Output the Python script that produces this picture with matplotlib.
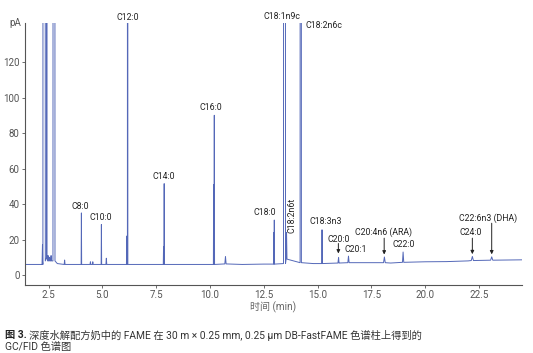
import numpy as np
from matplotlib import pyplot as plt

plt.rcParams['font.family'] = ['Roboto', 'Noto Sans CJK SC', 'DejaVu Sans']

# Пики хроматограммы: время удерживания (мин), высота (pA), уровень базовой линии, полуширина
peak_rt = [2.21, 2.28, 2.41, 2.47, 2.54, 2.61, 2.745, 3.24, 4.02, 4.44, 4.55,
           4.95, 5.18, 6.13, 6.17, 7.84, 7.87, 10.17, 10.20, 10.72, 12.97, 12.99, 13.465, 13.56,
           14.22, 15.21, 15.98, 16.44, 18.11, 18.98, 22.20, 23.10]
peak_height = [17, 3000, 3000, 11, 10, 11, 3000, 8.5, 35, 7.5, 7.5,
               28.5, 9.5, 22, 3000, 16, 51.5, 51, 90, 10.5, 24, 31, 3000, 24,
               3000, 25.5, 10, 10.7, 10.2, 13, 10.5, 10.3]
peak_base = [6, 8, 10, 8, 8, 8, 8, 6, 6, 6, 6,
             6, 6, 6, 6, 6, 6, 6, 6, 6.3, 6.2, 6.2, 6.5, 9,
             7, 6.5, 6.8, 7, 7, 7.2, 8.2, 8.4]
peak_halfwidth = [0.02, 0.063, 0.008, 0.02, 0.02, 0.02, 0.047, 0.02, 0.012, 0.02, 0.02,
                  0.012, 0.02, 0.015, 0.01, 0.012, 0.012, 0.012, 0.012, 0.03, 0.012, 0.012, 0.047, 0.02,
                  0.03, 0.015, 0.03, 0.03, 0.04, 0.03, 0.05, 0.05]

# Базовая линия между пиками
base_t = [1.4, 2.18, 2.9, 3.6, 5.6, 9.0, 11.5, 12.5, 14.8, 16.0, 17.0, 18.4, 20.0, 21.0, 22.0, 24.5]
base_y = [6.0, 6.0, 6.5, 6.0, 6.0, 6.0, 6.0, 6.2, 6.5, 6.8, 7.0, 6.8, 7.5, 7.6, 8.0, 8.6]

# Подписи пиков: текст, x, y
labels = ['C8:0', 'C10:0', 'C12:0', 'C14:0', 'C16:0', 'C18:1n9c', 'C18:0',
          'C18:3n3', 'C20:1', 'C22:0']
label_x = [3.98, 4.92, 6.18, 7.86, 10.03, 13.34, 12.56, 15.39, 16.80, 19.03]
label_y = [38.5, 32.7, 144.8, 55.4, 94.6, 145.4, 35.1, 30.0, 14.6, 17.3]

# Подписи со стрелками: текст, x текста, y текста, x пика, начало и конец стрелки
arrow_labels = ['C20:0', 'C20:4n6 (ARA)', 'C24:0', 'C22:6n3 (DHA)']
arrow_text_x = [15.97, 18.07, 22.10, 22.93]
arrow_text_y = [20.3, 24.0, 24.0, 32.0]
arrow_x = [15.97, 18.10, 22.20, 23.10]
arrow_top = [17.8, 20.8, 20.8, 29.2]
arrow_tip = [12.2, 11.6, 11.8, 11.7]

# Собрать точки кривой
pts = list(zip(base_t, base_y))
for rt, h, b, w in zip(peak_rt, peak_height, peak_base, peak_halfwidth):
    pts += [(rt - w, b), (rt, h), (rt + w, b)]
pts.sort()
t = np.array([p[0] for p in pts])
y = np.array([p[1] for p in pts])

fig = plt.figure(figsize=(5.33, 3.53), dpi=100)
ax = fig.add_axes([0.047, 0.193, 0.932, 0.742])
ax.plot(t, y, color='#5468b8', lw=0.7)

ax.set_xlim(1.4, 24.5)
ax.set_ylim(-5.5, 142)
ax.set_xticks([2.5, 5.0, 7.5, 10.0, 12.5, 15.0, 17.5, 20.0, 22.5])
ax.set_xticklabels(['2.5', '5.0', '7.5', '10.0', '12.5', '15.0', '17.5', '20.0', '22.5'])
ax.set_yticks([0, 20, 40, 60, 80, 100, 120])
for s in ['top', 'right']:
    ax.spines[s].set_visible(False)
for s in ['left', 'bottom']:
    ax.spines[s].set_color('#555555')
    ax.spines[s].set_linewidth(0.8)
ax.tick_params(labelsize=7, colors='#555555', length=2.5, width=0.6, pad=1.5)
ax.set_xlabel('时间 (min)', fontsize=7.2, color='#666666', labelpad=1)
ax.text(-0.008, 1.0, 'pA', transform=ax.transAxes, ha='right', va='center',
        fontsize=7, color='#555555')

for txt, lx, ly in zip(labels, label_x, label_y):
    ax.text(lx, ly, txt, ha='center', va='center', fontsize=6.3, color='#222222', clip_on=False)
ax.text(14.42, 140.8, 'C18:2n6c', ha='left', va='center', fontsize=6.3, color='#222222', clip_on=False)
ax.text(13.80, 33.8, 'C18:2n6t', ha='center', va='center', rotation=90, fontsize=6.3, color='#222222')

for txt, tx, ty, ax_x, a0, a1 in zip(arrow_labels, arrow_text_x, arrow_text_y, arrow_x, arrow_top, arrow_tip):
    ax.text(tx, ty, txt, ha='center', va='center', fontsize=6.3, color='#222222')
    ax.annotate('', xy=(ax_x, a1), xytext=(ax_x, a0),
                arrowprops=dict(arrowstyle='-|>', color='#222222', lw=0.7, mutation_scale=5,
                                shrinkA=0, shrinkB=0))

# Подпись к рисунку
bold = fig.text(0.009, 0.051, '图 3.', fontsize=7.4, weight='bold', color='#222222', va='center')
fig.canvas.draw()
bb = bold.get_window_extent(renderer=fig.canvas.get_renderer())
x_next = (bb.x1 + 2) / fig.bbox.width
fig.text(x_next, 0.051, '深度水解配方奶中的 FAME 在 30 m × 0.25 mm, 0.25 µm DB-FastFAME 色谱柱上得到的',
         fontsize=7.4, color='#333333', va='center')
fig.text(0.009, 0.017, 'GC/FID 色谱图', fontsize=7.4, color='#333333', va='center')

plt.savefig('out.png', dpi=100)
